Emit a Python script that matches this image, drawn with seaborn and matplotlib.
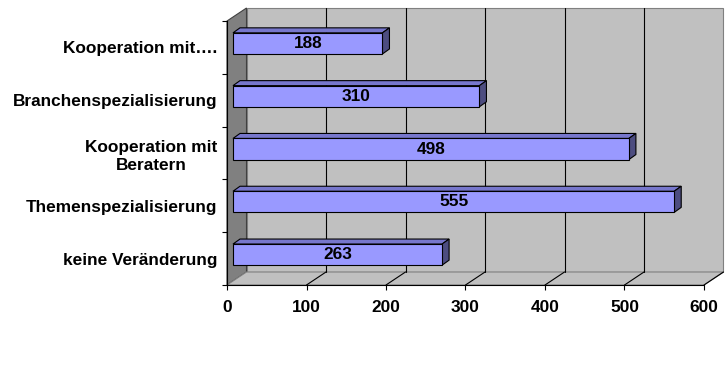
import matplotlib
matplotlib.use("Agg")
import matplotlib.pyplot as plt
import matplotlib.transforms as mtrans
from matplotlib.patches import Polygon, Rectangle
from matplotlib.lines import Line2D
import numpy as np
import pandas as pd
import seaborn as sns

categories = ["Kooperation mit….", "Branchenspezialisierung", "Kooperation mit\nBeratern",
              "Themenspezialisierung", "keine Veränderung"]
counts = [188, 310, 498, 555, 263]
x_ticks = [0, 100, 200, 300, 400, 500, 600]

sns.set_theme(style="white")
plt.rcParams["font.family"] = ["Liberation Sans", "DejaVu Sans"]

FS = 12.4
W, H, DPI = 725, 367, 100
fig = plt.figure(figsize=(W / DPI, H / DPI), dpi=DPI)
fig.patch.set_facecolor("white")

# front plane of the box, in figure pixels
left, right, top, bottom = 227, 704, 21, 285
ax = fig.add_axes([left / W, 1 - bottom / H, (right - left) / W, (bottom - top) / H])
ax.patch.set_alpha(0)

df = pd.DataFrame({"Kategorie": categories, "Anzahl": counts})
sns.barplot(data=df, x="Anzahl", y="Kategorie", orient="h", width=0.4,
            color="#9999FF", saturation=1, edgecolor="black", linewidth=0.8, ax=ax)
ax.set_xlim(x_ticks[0], x_ticks[-1])
n = len(categories)
ax.set_ylim(n - 0.5, -0.5)
ax.set_xlabel("")
ax.set_ylabel("")

# depth offsets in pixels (x right, y up)
WALL = (19.5, 13.0)
BAR_FRONT = (6.0, 4.0)
BAR_DEPTH = (7.0, 5.0)


def shifted(dx, dy):
    return mtrans.offset_copy(ax.transData, fig=fig, x=dx, y=dy, units="dots")


def disp(x, y, dx=0.0, dy=0.0):
    px, py = ax.transData.transform((x, y))
    return (px + dx, py + dy)


ident = mtrans.IdentityTransform()
y_top, y_bot = -0.5, n - 0.5
x_min, x_max = x_ticks[0], x_ticks[-1]

# back wall
ax.add_patch(Rectangle((x_min, y_top), x_max - x_min, y_bot - y_top,
                       transform=shifted(*WALL), facecolor="#C0C0C0",
                       edgecolor="#808080", linewidth=0.8, clip_on=False, zorder=0.1))
# left side wall
ax.add_patch(Polygon([disp(x_min, y_top), disp(x_min, y_top, *WALL),
                      disp(x_min, y_bot, *WALL), disp(x_min, y_bot)],
                     transform=ident, facecolor="#808080", edgecolor="#404040",
                     linewidth=0.8, clip_on=False, zorder=0.2))
# floor
ax.add_patch(Polygon([disp(x_min, y_bot), disp(x_max, y_bot),
                      disp(x_max, y_bot, *WALL), disp(x_min, y_bot, *WALL)],
                     transform=ident, facecolor="#C0C0C0", edgecolor="#808080",
                     linewidth=0.8, clip_on=False, zorder=0.2))

# grid lines on the back wall and across the floor
for v in x_ticks[1:-1]:
    ax.add_line(Line2D([v, v], [y_top, y_bot], transform=shifted(*WALL),
                       color="black", linewidth=0.8, clip_on=False, zorder=0.3))
for v in x_ticks[1:]:
    p0 = disp(v, y_bot)
    p1 = disp(v, y_bot, *WALL)
    ax.add_line(Line2D([p0[0], p1[0]], [p0[1], p1[1]], transform=ident,
                       color="black", linewidth=0.8, clip_on=False, zorder=0.3))

# 3-D bars: front face from seaborn, plus top and end faces
bdx, bdy = BAR_FRONT
ddx, ddy = BAR_DEPTH
bars = [p for p in ax.patches if isinstance(p, Rectangle) and p.get_zorder() >= 0.9]
for bar, val in zip(bars, counts):
    x0, y0 = bar.get_x(), bar.get_y()
    w, h = bar.get_width(), bar.get_height()
    bar.set_transform(shifted(bdx, bdy))
    bar.set_clip_on(False)
    bar.set_zorder(3)
    top_face = [disp(x0, y0, bdx, bdy), disp(x0 + w, y0, bdx, bdy),
                disp(x0 + w, y0, bdx + ddx, bdy + ddy), disp(x0, y0, bdx + ddx, bdy + ddy)]
    end_face = [disp(x0 + w, y0, bdx, bdy), disp(x0 + w, y0 + h, bdx, bdy),
                disp(x0 + w, y0 + h, bdx + ddx, bdy + ddy), disp(x0 + w, y0, bdx + ddx, bdy + ddy)]
    ax.add_patch(Polygon(top_face, transform=ident, facecolor="#7777CC",
                         edgecolor="black", linewidth=0.8, clip_on=False, zorder=2.9))
    ax.add_patch(Polygon(end_face, transform=ident, facecolor="#4D4D80",
                         edgecolor="black", linewidth=0.8, clip_on=False, zorder=2.9))
    ax.text(x0 + w / 2, y0 + h / 2, f"{val}", transform=shifted(bdx, bdy),
            ha="center", va="center", fontsize=FS, fontweight="bold",
            color="black", zorder=4)

# front axes lines and ticks
for side in ("top", "right"):
    ax.spines[side].set_visible(False)
for side in ("left", "bottom"):
    ax.spines[side].set_color("black")
    ax.spines[side].set_linewidth(0.8)
    ax.spines[side].set_zorder(2.5)

ax.set_xticks(x_ticks)
ax.set_xticklabels([str(t) for t in x_ticks], fontsize=FS, fontweight="bold")
ax.tick_params(axis="x", direction="out", length=3.4, width=0.8, color="black",
               pad=7.5, bottom=True, labelcolor="black")
ax.set_yticks(range(n))
ax.set_yticklabels(categories, fontsize=FS, fontweight="bold")
for lbl in ax.get_yticklabels():
    lbl.set_multialignment("center")
    lbl.set_linespacing(1.25)
ax.set_yticks(np.arange(-0.5, n, 1.0), minor=True)
ax.tick_params(axis="y", which="major", length=0, pad=7, labelcolor="black")
ax.tick_params(axis="y", which="minor", direction="out", length=3.6, width=0.8,
               color="black", left=True)

fig.savefig("out.png", dpi=DPI)
